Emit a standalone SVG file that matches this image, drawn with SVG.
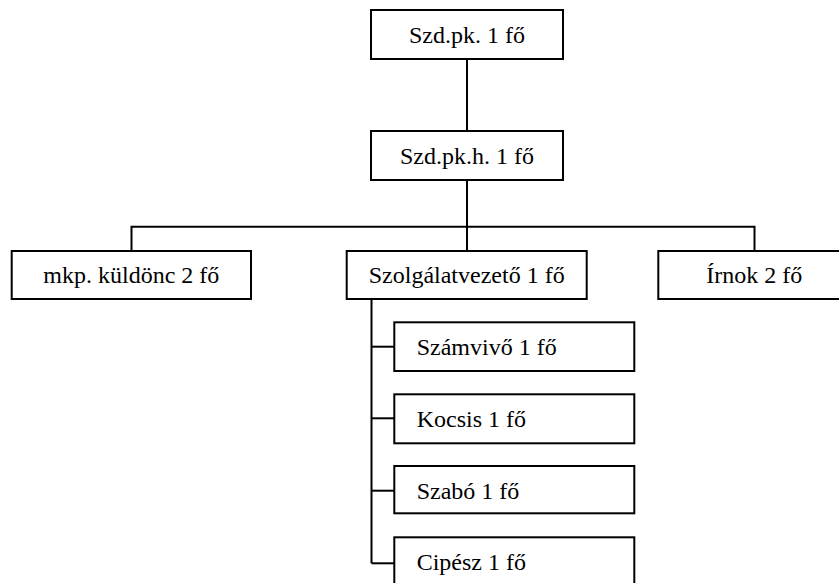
<svg xmlns="http://www.w3.org/2000/svg" width="839" height="583" viewBox="0 0 839 583">
<style>
.box{fill:#fff;stroke:#000;stroke-width:2}
.c{fill:none;stroke:#000;stroke-width:2}
text{font-family:"Liberation Serif","Times New Roman",serif;font-size:24px;fill:#000}
.m{text-anchor:middle}
</style>
<rect width="839" height="583" fill="#fff"/>
<g id="connectors">
<line class="c" x1="467" y1="59" x2="467" y2="131"/>
<line class="c" x1="467" y1="180" x2="467" y2="251"/>
<polyline class="c" points="131.5,251 131.5,226.7 754.5,226.7 754.5,251"/>
<line class="c" x1="371.5" y1="299" x2="371.5" y2="563.3"/>
<line class="c" x1="371.5" y1="346.7" x2="394.3" y2="346.7"/>
<line class="c" x1="371.5" y1="418.3" x2="394.3" y2="418.3"/>
<line class="c" x1="371.5" y1="490.7" x2="394.3" y2="490.7"/>
<line class="c" x1="371.5" y1="563.3" x2="394.3" y2="563.3"/>
</g>
<g id="n-szdpk"><rect class="box" x="371" y="10" width="192" height="49"/><text class="m" x="467" y="43">Szd.pk. 1 fő</text></g>
<g id="n-szdpkh"><rect class="box" x="371" y="131" width="192" height="49"/><text class="m" x="467" y="164">Szd.pk.h. 1 fő</text></g>
<g id="n-mkp"><rect class="box" x="11.7" y="251" width="239.3" height="48"/><text class="m" x="131.3" y="283">mkp. küldönc 2 fő</text></g>
<g id="n-szolg"><rect class="box" x="346.7" y="251" width="240" height="48"/><text class="m" x="466.7" y="283">Szolgálatvezető 1 fő</text></g>
<g id="n-irnok"><rect class="box" x="658.3" y="251" width="192" height="48"/><text class="m" x="754.3" y="283">Írnok 2 fő</text></g>
<g id="n-szamvivo"><rect class="box" x="394.3" y="322.3" width="240" height="48.7"/><text x="416.7" y="355">Számvivő 1 fő</text></g>
<g id="n-kocsis"><rect class="box" x="394.3" y="394.3" width="240" height="49"/><text x="416.7" y="427">Kocsis 1 fő</text></g>
<g id="n-szabo"><rect class="box" x="394.3" y="466" width="240" height="47.3"/><text x="416.7" y="498.5">Szabó 1 fő</text></g>
<g id="n-cipesz"><rect class="box" x="394.3" y="537.3" width="240" height="60"/><text x="416.7" y="569.5">Cipész 1 fő</text></g>
</svg>
